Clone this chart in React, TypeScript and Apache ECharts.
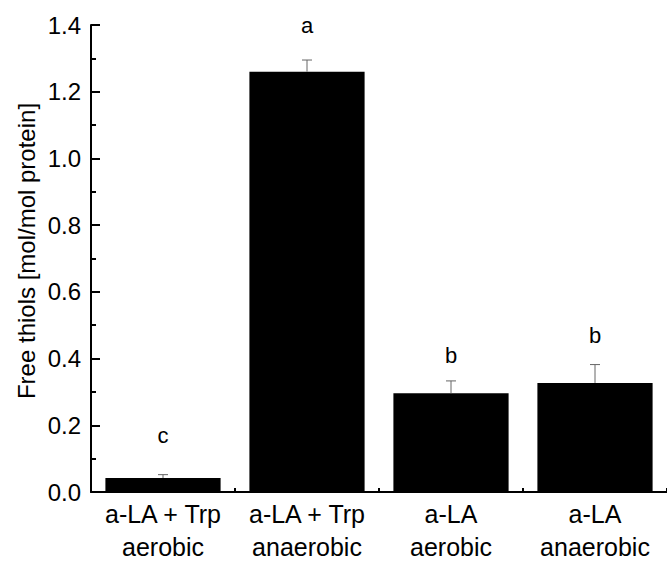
import React, { useEffect, useRef } from "react";
import * as echarts from "echarts";

const categories = ["a-LA + Trp\naerobic", "a-LA + Trp\nanaerobic", "a-LA\naerobic", "a-LA\nanaerobic"];
const values = [0.042, 1.26, 0.296, 0.327];
const errors = [0.01, 0.035, 0.037, 0.055];
const letters = ["c", "a", "b", "b"];
const letterY = [0.17, 1.4, 0.41, 0.47];
const yTitle = "Free thiols [mol/mol protein]";

const FONT = "Liberation Sans, Arial, sans-serif";

export default function App() {
  const ref = useRef<HTMLDivElement>(null);
  useEffect(() => {
    if (!ref.current) return;
    const chart = echarts.init(ref.current, undefined, { renderer: "svg" });
    chart.setOption({
      animation: false,
      backgroundColor: "#fff",
      grid: { left: 91, top: 25, width: 583, height: 470, containLabel: false },
      xAxis: {
        type: "category",
        data: categories,
        axisLine: { show: true, lineStyle: { color: "#000", width: 2 } },
        axisTick: { show: true, inside: true, length: 4, lineStyle: { color: "#000", width: 2 }, alignWithLabel: false },
        axisLabel: { color: "#000", fontSize: 25, fontFamily: FONT, lineHeight: 33, margin: 5, interval: 0 },
        splitLine: { show: false },
      },
      yAxis: {
        type: "value",
        min: 0,
        max: 1.4,
        interval: 0.2,
        axisLine: { show: true, lineStyle: { color: "#000", width: 2 } },
        axisTick: { show: true, inside: true, length: 9, lineStyle: { color: "#000", width: 2 } },
        minorTick: { show: true, splitNumber: 2, length: 5, lineStyle: { color: "#000", width: 2 } },
        axisLabel: { color: "#000", fontSize: 24, fontFamily: FONT, margin: 10, formatter: (v: number) => v.toFixed(1) },
        splitLine: { show: false },
      },
      graphic: [
        {
          type: "text",
          x: 26,
          y: 251,
          rotation: Math.PI / 2,
          style: { text: yTitle, fontSize: 24, fontFamily: FONT, fill: "#000", align: "center", verticalAlign: "middle" },
        },
      ],
      series: [
        {
          type: "bar",
          data: values,
          barWidth: "80%",
          itemStyle: { color: "#000" },
        },
        {
          type: "custom",
          data: values.map((v, i) => [i, v, errors[i]]),
          renderItem: (params: any, api: any) => {
            const x = api.value(0);
            const v = api.value(1);
            const e = api.value(2);
            const base = api.coord([x, v]);
            const top = api.coord([x, v + e]);
            const style = { stroke: "#666", lineWidth: 1 };
            return {
              type: "group",
              children: [
                { type: "line", shape: { x1: base[0], y1: base[1], x2: top[0], y2: top[1] }, style },
                { type: "line", shape: { x1: top[0] - 5, y1: top[1], x2: top[0] + 5, y2: top[1] }, style },
              ],
            };
          },
          z: 5,
        },
        {
          type: "custom",
          clip: false,
          data: letterY.map((v, i) => [i, v]),
          renderItem: (params: any, api: any) => {
            const pt = api.coord([api.value(0), api.value(1)]);
            return {
              type: "text",
              x: pt[0],
              y: pt[1],
              style: {
                text: letters[params.dataIndex],
                fontSize: 22,
                fontFamily: FONT,
                fill: "#000",
                align: "center",
                verticalAlign: "middle",
              },
            };
          },
          z: 6,
        },
      ],
    });
    return () => chart.dispose();
  }, []);
  return <div ref={ref} style={{ position: "fixed", left: 0, top: 0, width: 667, height: 563 }} />;
}
